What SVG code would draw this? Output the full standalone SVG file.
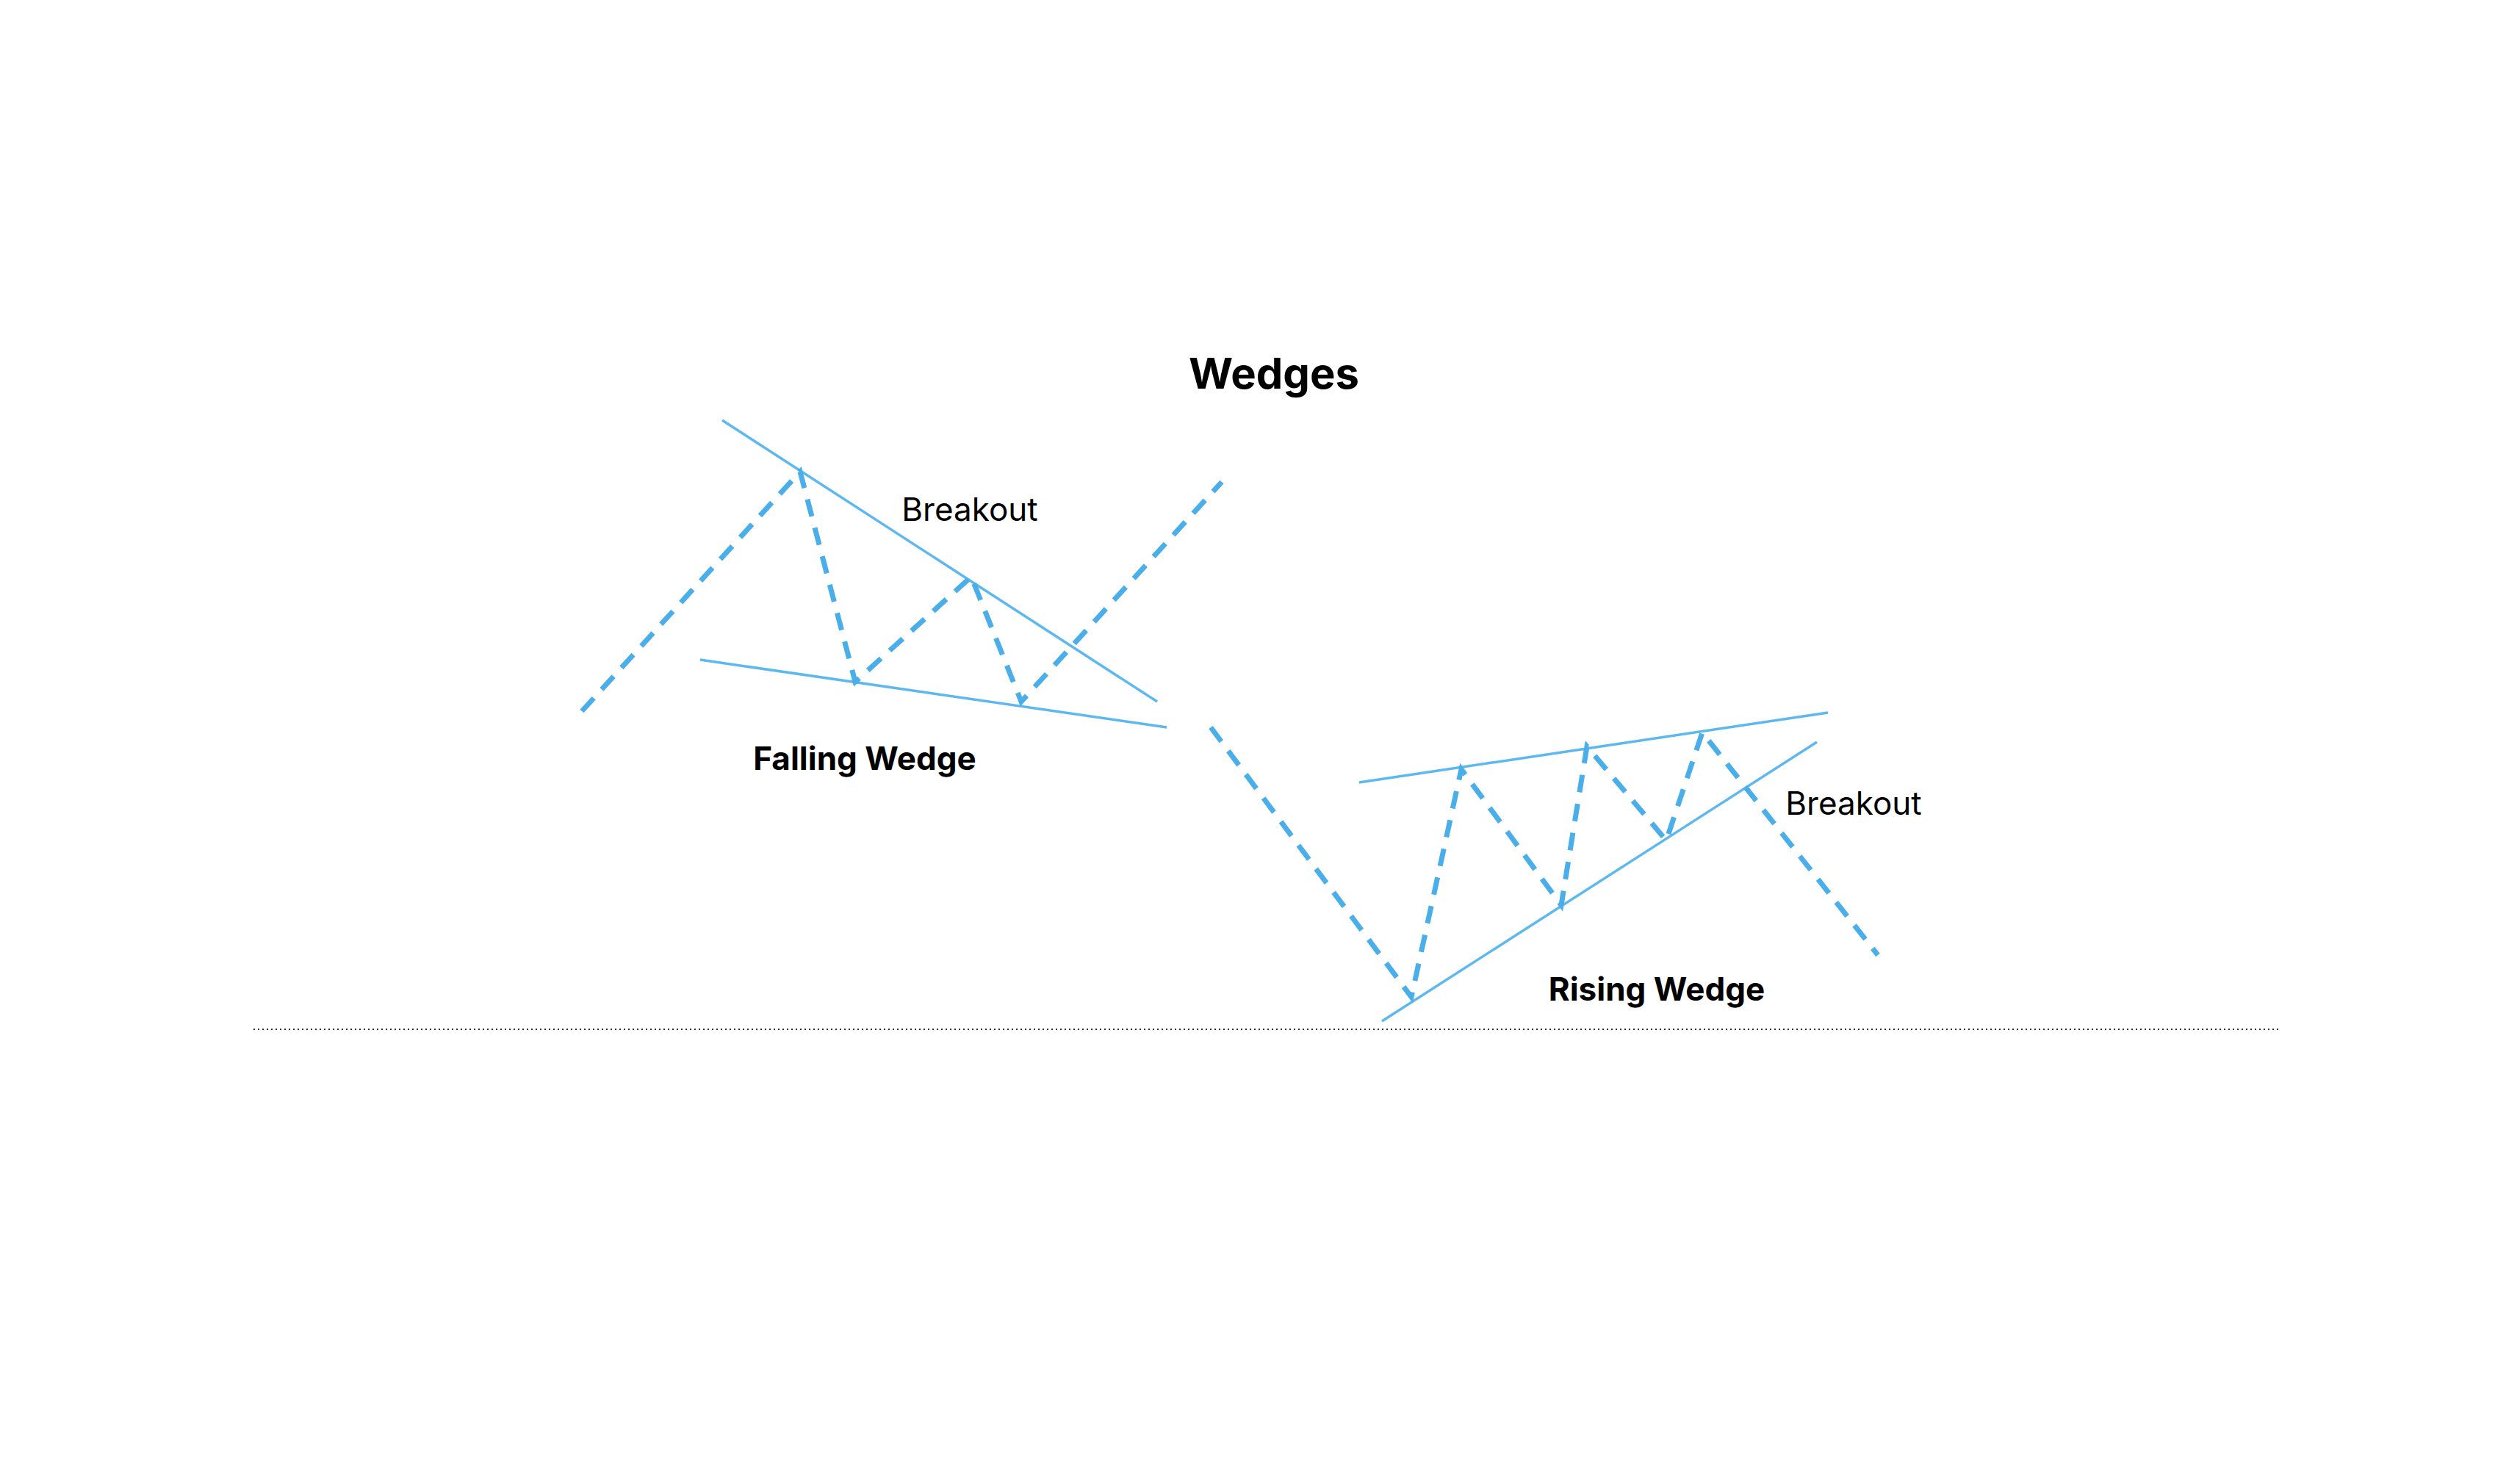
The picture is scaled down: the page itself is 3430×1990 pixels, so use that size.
<svg xmlns="http://www.w3.org/2000/svg" width="3430" height="1990" viewBox="0 0 3430 1990">
<style>
.t{stroke:#5cb8ee;stroke-width:3.5;fill:none}
.d{stroke:#4aaeea;stroke-width:7;fill:none;stroke-dasharray:24 16}
text{font-family:Inter,"Liberation Sans",sans-serif;fill:#000;dominant-baseline:central}
.b{font-weight:700}
</style>
<rect width="3430" height="1990" fill="#fff"/>
<text x="1734" y="508" font-size="58" class="b" text-anchor="middle">Wedges</text>
<g id="falling-wedge">
<line class="t" x1="983" y1="572" x2="1575" y2="955"/>
<line class="t" x1="953" y1="898" x2="1588" y2="990"/>
<text x="1320" y="693" font-size="44" text-anchor="middle">Breakout</text>
<text x="1177" y="1032" font-size="44" class="b" text-anchor="middle">Falling Wedge</text>
</g>
<g id="rising-wedge">
<line class="t" x1="1850" y1="1065" x2="2488" y2="970"/>
<line class="t" x1="1881" y1="1390" x2="2473" y2="1010"/>
<text x="2523" y="1093" font-size="44" text-anchor="middle">Breakout</text>
<text x="2255" y="1346" font-size="44" class="b" text-anchor="middle">Rising Wedge</text>
</g>
<g id="connectors">
<polyline class="d" points="792,968 1089,642 1164,928 1322,785 1390,955 1663,656"/>
<polyline class="d" points="1648,990 1921,1357 1989,1047 2125,1232 2160,1016 2268,1144 2317,997 2556,1300"/>
<line x1="345" y1="1401" x2="3102" y2="1401" stroke="#333" stroke-width="2" stroke-dasharray="2 4"/>
</g>
</svg>
